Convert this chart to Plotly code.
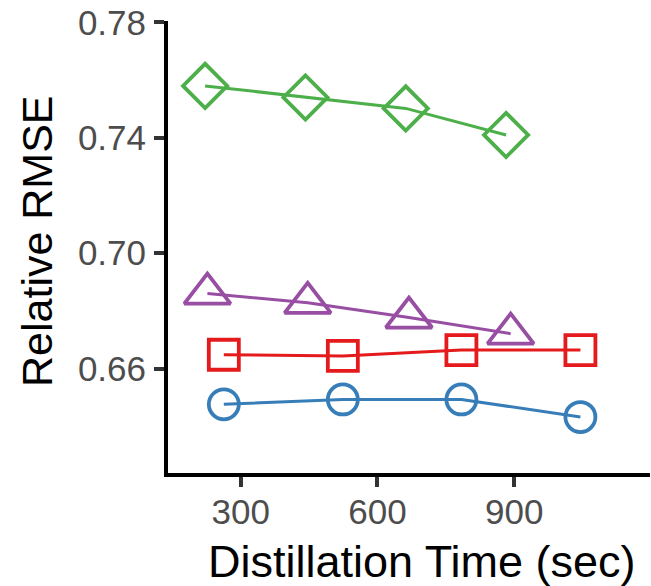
import plotly.graph_objects as go

# Data
green_x = [222, 442, 662, 882]
green_y = [0.7580, 0.7540, 0.7502, 0.7410]
purple_x = [227, 447, 669, 892]
purple_y = [0.6860, 0.6828, 0.6777, 0.6721]
red_x = [263, 524, 784, 1045]
red_y = [0.6648, 0.6644, 0.6664, 0.6664]
blue_x = [263, 524, 784, 1045]
blue_y = [0.6476, 0.6493, 0.6493, 0.6432]

x_ticks = [300, 600, 900]
y_ticks = [0.66, 0.70, 0.74, 0.78]
y_tick_text = ["0.66", "0.70", "0.74", "0.78"]

W, H = 651, 586
L, R, T, B = 168, 1, 21, 113
pw, ph = W - L - R, H - T - B

series = [
    ("blue", blue_x, blue_y, "#377EB8", "circle-open", 30),
    ("red", red_x, red_y, "#E41A1C", "square-open", 30),
    ("purple", purple_x, purple_y, "#984EA3", "triangle-up-open", 40),
    ("green", green_x, green_y, "#4DAF4A", "diamond-open", 34),
]

fig = go.Figure()
for name, xs, ys, col, sym, sz in series:
    fig.add_trace(go.Scatter(
        x=xs, y=ys, name=name, mode="lines",
        line=dict(color=col, width=3), showlegend=False, hoverinfo="skip"))
for name, xs, ys, col, sym, sz in series:
    fig.add_trace(go.Scatter(
        x=xs, y=ys, name=name, mode="markers",
        marker=dict(symbol=sym, size=sz, color=col, line=dict(color=col, width=3.8)),
        showlegend=False))

font_family = "Liberation Sans, Arial, sans-serif"

fig.update_layout(
    width=W, height=H,
    margin=dict(l=L, r=R, t=T, b=B, pad=0),
    paper_bgcolor="white", plot_bgcolor="white",
    font=dict(family=font_family, color="#4D4D4D", size=35),
    xaxis=dict(
        range=[140.6, 1197.6], tickvals=x_ticks, ticktext=[str(v) for v in x_ticks],
        showgrid=False, zeroline=False, showline=True, linecolor="black", linewidth=4,
        ticks="outside", ticklen=10, tickwidth=4, tickcolor="#333333",
        tickfont=dict(size=35, color="#4D4D4D", family=font_family),
        ticklabelstandoff=-5,
    ),
    yaxis=dict(
        range=[0.6238, 0.7805], tickvals=y_ticks, ticktext=y_tick_text,
        showgrid=False, zeroline=False, showline=True, linecolor="black", linewidth=4,
        ticks="outside", ticklen=10, tickwidth=4, tickcolor="#333333",
        tickfont=dict(size=35, color="#4D4D4D", family=font_family),
        ticklabelstandoff=1,
    ),
    annotations=[
        dict(text="Distillation Time (sec)", xref="paper", yref="paper",
             x=(422 - L) / pw, y=(H - B - 561) / ph, xanchor="center", yanchor="middle",
             showarrow=False, font=dict(size=45, color="black", family=font_family)),
        dict(text="Relative RMSE", xref="paper", yref="paper", textangle=-90,
             x=(37 - L) / pw, y=(H - B - 241) / ph, xanchor="center", yanchor="middle",
             showarrow=False, font=dict(size=43, color="black", family=font_family)),
    ],
)

fig.write_html("out.html")
